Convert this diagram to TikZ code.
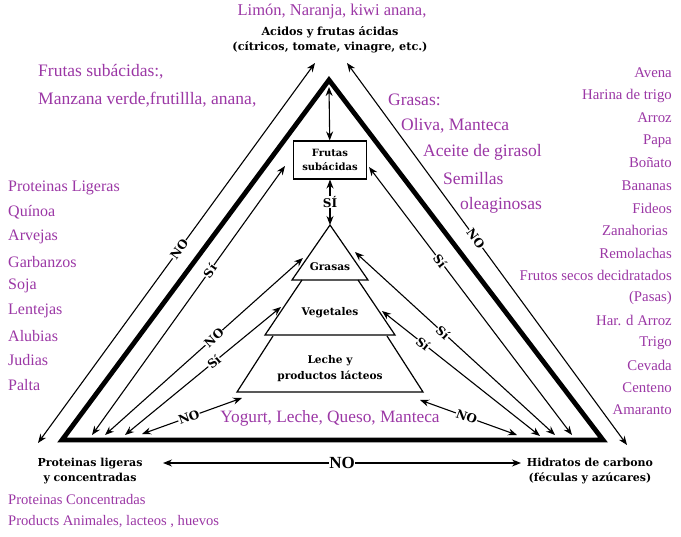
\documentclass[tikz,border=0pt]{standalone}
\usepackage{fontspec}
\setmainfont{Liberation Serif}
\newfontfamily\labfont{DejaVu Serif}
\usetikzlibrary{arrows.meta}
\definecolor{lila}{RGB}{155,55,165}
\tikzset{
	food/.style={text=lila, inner sep=0pt, font=\fontsize{16}{18}\selectfont},
	lab/.style={align=center, inner sep=1pt, font=\labfont\bfseries\fontsize{11}{15}\selectfont},
	tag/.style={fill=white, inner sep=0.5pt, font=\labfont\bfseries\fontsize{12}{12}\selectfont},
	link/.style={{Stealth[length=9pt,width=7pt]}-{Stealth[length=9pt,width=7pt]}, line width=1.1pt},
}
\begin{document}
\begin{tikzpicture}[x=1pt,y=-1pt]
		\useasboundingbox (0,0) rectangle (681,537);
		
		\coordinate (t) at (329,80);
		\coordinate (bl) at (62,440);
		\coordinate (br) at (603,440);
		\draw[line width=4.8pt] (t) -- (bl) -- (br) -- cycle;
		
		\node[lab, font=\labfont\bfseries\fontsize{11.2}{15}\selectfont] (acid) at (330,40)		{Acidos y frutas ácidas\\(cítricos, tomate, vinagre, etc.)};
		\node[lab] (prot) at (90,471)		{Proteinas ligeras\\y concentradas};
		\node[lab] (hidr) at (590,471)		{Hidratos de carbono\\(féculas y azúcares)};
		\node[lab, draw, line width=1.1pt, minimum width=73pt, minimum height=38pt, font=\labfont\bfseries\fontsize{10}{14}\selectfont] (sub) at (330,160)		{Frutas\\subácidas};
		
		% piramide
		\coordinate (g) at (330,225);
		\draw[line width=1.2pt] (g) -- (292,280) -- (368,280) -- cycle;
		\draw[line width=1.2pt] (302,280) -- (265,335) -- (395,335) -- (358,280);
		\draw[line width=1.2pt] (273,336) -- (237,392) -- (423,392) -- (387,336);
		\node[lab, font=\labfont\bfseries\fontsize{10.6}{15}\selectfont] (gras) at (330,267)		{Grasas};
		\node[lab, font=\labfont\bfseries\fontsize{10.6}{15}\selectfont] (veg) at (330,313)		{Vegetales};
		\node[lab, font=\labfont\bfseries\fontsize{10.6}{16}\selectfont] (lech) at (330,369)		{Leche y\\productos lácteos};
		
		% extremos de flechas
		\coordinate (olb) at (38,443);
		\coordinate (olt) at (315,63);
		\coordinate (ort) at (347,63);
		\coordinate (orb) at (627,445);
		\coordinate (ti) at (329,87);
		\coordinate (sl) at (285,166);
		\coordinate (sr) at (369,167);
		\coordinate (gl) at (303,258);
		\coordinate (gr) at (355,252);
		\coordinate (vl) at (281,307);
		\coordinate (vr) at (382,311);
		\coordinate (ll) at (242,398);
		\coordinate (lr) at (420,400);
		\coordinate (l1) at (92,435);
		\coordinate (l2) at (105,435);
		\coordinate (l3) at (125,435);
		\coordinate (l4) at (142,434);
		\coordinate (r1) at (572,435);
		\coordinate (r2) at (555,435);
		\coordinate (r3) at (540,436);
		\coordinate (r4) at (517,435);
		\coordinate (nl) at (163,463);
		\coordinate (nr) at (521,463);
		
		\draw[link] (olb) -- (olt) node[tag, sloped, pos=0.51]		{NO};
		\draw[link] (orb) -- (ort) node[tag, sloped, pos=0.54]		{NO};
		\draw[link] (ti) -- (sub);
		\draw[link] (sub) -- (g) node[tag, midway]		{SÍ};
		
		\draw[link] (l1) -- (sl) node[tag, sloped, pos=0.61]		{Sí};
		\draw[link] (l2) -- (gl) node[tag, sloped, pos=0.55]		{NO};
		\draw[link] (l3) -- (vl) node[tag, sloped, pos=0.57]		{Sí};
		\draw[link] (l4) -- (ll) node[tag, sloped, pos=0.47]		{NO};
		\draw[link] (r1) -- (sr) node[tag, sloped, pos=0.65]		{Sí};
		\draw[link] (r2) -- (gr) node[tag, sloped, pos=0.56]		{Sí};
		\draw[link] (r3) -- (vr) node[tag, sloped, pos=0.74]		{Sí};
		\draw[link] (r4) -- (lr) node[tag, sloped, pos=0.52]		{NO};
		\draw[link] (nl) -- (nr) node[tag, midway, font=\bfseries\fontsize{17}{17}\selectfont]		{NO};
		
		% textos en lila
		\node[food, font=\fontsize{16.5}{18}\selectfont] (citr) at (332,12)		{Limón, Naranja, kiwi anana,};
		\node[food, anchor=west, font=\fontsize{17.5}{18}\selectfont] (fs1) at (38,72)		{Frutas subácidas:,};
		\node[food, anchor=west, font=\fontsize{17.5}{18}\selectfont] (fs2) at (38,100)		{Manzana verde,frutillla, anana,};
		\node[food, anchor=west, font=\fontsize{17.5}{18}\selectfont] (gr1) at (388,100)		{Grasas:};
		\node[food, anchor=west, font=\fontsize{17.5}{18}\selectfont] (gr2) at (401,126)		{Oliva, Manteca};
		\node[food, anchor=west, font=\fontsize{17.5}{18}\selectfont] (gr3) at (423,152)		{Aceite de girasol};
		\node[food, anchor=west, font=\fontsize{17.5}{18}\selectfont] (gr4) at (443,179)		{Semillas};
		\node[food, anchor=west, font=\fontsize{17.5}{18}\selectfont] (gr5) at (460,205)		{oleaginosas};
		\node[food, font=\fontsize{17.3}{18}\selectfont] (lac) at (330,418)		{Yogurt, Leche, Queso, Manteca};
		
		\node[food, anchor=west] (p1) at (8,188)		{Proteinas Ligeras};
		\node[food, anchor=west] (p2) at (8,212)		{Quínoa};
		\node[food, anchor=west] (p3) at (8,237)		{Arvejas};
		\node[food, anchor=west] (p4) at (8,262)		{Garbanzos};
		\node[food, anchor=west] (p5) at (8,286)		{Soja};
		\node[food, anchor=west] (p6) at (8,311)		{Lentejas};
		\node[food, anchor=west] (p7) at (8,336)		{Alubias};
		\node[food, anchor=west] (p8) at (8,360)		{Judias};
		\node[food, anchor=west] (p9) at (8,385)		{Palta};
		
		\node[food, anchor=east, font=\fontsize{14.8}{16}\selectfont] (h1) at (672,73)		{Avena};
		\node[food, anchor=east, font=\fontsize{14.8}{16}\selectfont] (h2) at (672,96)		{Harina de trigo};
		\node[food, anchor=east, font=\fontsize{14.8}{16}\selectfont] (h3) at (672,118)		{Arroz};
		\node[food, anchor=east, font=\fontsize{14.8}{16}\selectfont] (h4) at (672,141)		{Papa};
		\node[food, anchor=east, font=\fontsize{14.8}{16}\selectfont] (h5) at (672,163)		{Boñato};
		\node[food, anchor=east, font=\fontsize{14.8}{16}\selectfont] (h6) at (672,186)		{Bananas};
		\node[food, anchor=east, font=\fontsize{14.8}{16}\selectfont] (h7) at (672,208)		{Fideos};
		\node[food, anchor=east, font=\fontsize{14.8}{16}\selectfont] (h8) at (668,230)		{Zanahorias};
		\node[food, anchor=east, font=\fontsize{14.8}{16}\selectfont] (h9) at (672,253)		{Remolachas};
		\node[food, anchor=east, font=\fontsize{14.8}{16}\selectfont] (h10) at (672,275)		{Frutos secos decidratados};
		\node[food, anchor=east, font=\fontsize{14.8}{16}\selectfont] (h11) at (672,298)		{(Pasas)};
		\node[food, anchor=east, font=\fontsize{14.8}{16}\selectfont] (h12) at (672,320)		{Har. d Arroz};
		\node[food, anchor=east, font=\fontsize{14.8}{16}\selectfont] (h13) at (672,343)		{Trigo};
		\node[food, anchor=east, font=\fontsize{14.8}{16}\selectfont] (h14) at (672,365)		{Cevada};
		\node[food, anchor=east, font=\fontsize{14.8}{16}\selectfont] (h15) at (672,388)		{Centeno};
		\node[food, anchor=east, font=\fontsize{14.8}{16}\selectfont] (h16) at (672,410)		{Amaranto};
		
		\node[food, anchor=west, font=\fontsize{14.6}{16}\selectfont] (pc1) at (8,500)		{Proteinas Concentradas};
		\node[food, anchor=west, font=\fontsize{14.6}{16}\selectfont] (pc2) at (8,522)		{Products Animales, lacteos , huevos};
	\end{tikzpicture}
\end{document}
